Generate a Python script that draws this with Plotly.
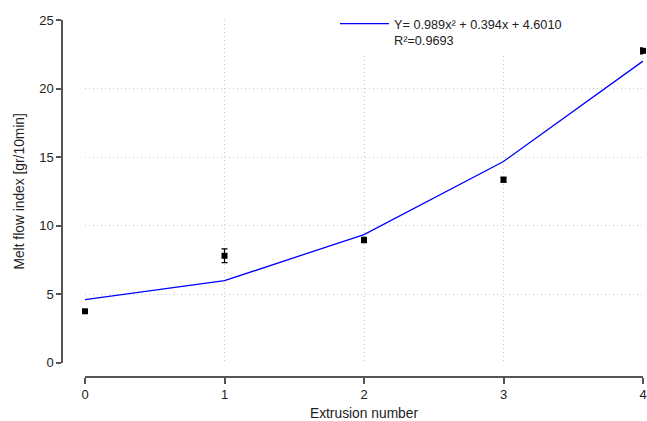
import plotly.graph_objects as go

extrusion = [0, 1, 2, 3, 4]
mfi_mean = [3.75, 7.8, 8.95, 13.35, 22.75]
mfi_err = [0.12, 0.5, 0.2, 0.17, 0.22]
fit_values = [4.60, 5.98, 9.35, 14.68, 22.00]
fit_label = "Y= 0.989x² + 0.394x + 4.6010<br>R²=0.9693"
y_ticks = [0, 5, 10, 15, 20, 25]
x_ticks = [0, 1, 2, 3, 4]

W, H = 647, 421
L, R, T, B = 62, 4, 20, 44
pw = W - L - R
ph = H - T - B

fig = go.Figure()
fig.add_trace(go.Scatter(
    x=extrusion, y=fit_values, mode="lines",
    line=dict(color="#0000ff", width=1.3),
    name=fit_label, showlegend=True, cliponaxis=False,
))
fig.add_trace(go.Scatter(
    x=extrusion, y=mfi_mean, mode="markers",
    marker=dict(symbol="square", size=6, color="black"),
    error_y=dict(type="data", array=mfi_err, color="black", thickness=1.2, width=3),
    showlegend=False, cliponaxis=False,
))

axis_color = "#555555"
grid_color = "#c8c8c8"
fig.update_layout(
    width=W, height=H,
    margin=dict(l=L, r=R, t=T, b=B, autoexpand=False),
    paper_bgcolor="white", plot_bgcolor="white",
    font=dict(family="Liberation Sans, Arial, sans-serif", size=13, color="#222222"),
    xaxis=dict(
        domain=[(85 - L) / pw, 1], range=[0, 4], anchor="free", position=0,
        tickvals=x_ticks, ticks="outside", ticklen=6, tickwidth=1.5, tickcolor=axis_color,
        showline=True, linecolor=axis_color, linewidth=1.5,
        showgrid=True, gridcolor=grid_color, griddash="1px,3px", gridwidth=1,
        zeroline=False, automargin=False, tickfont=dict(color="#222222", size=13),
        title=dict(text="Extrusion number", standoff=8, font=dict(size=13.8)),
    ),
    yaxis=dict(
        domain=[(377 - 362.7) / ph, 1], range=[0, 25], anchor="free", position=0,
        tickvals=y_ticks, ticks="outside", ticklen=5, tickwidth=1.5, tickcolor=axis_color,
        showline=True, linecolor=axis_color, linewidth=1.5,
        showgrid=True, gridcolor=grid_color, griddash="1px,3px", gridwidth=1,
        zeroline=False, automargin=False, tickfont=dict(color="#222222", size=13),
        title=dict(text="Melt flow index [gr/10min]", standoff=10, font=dict(size=13.8)),
    ),
    legend=dict(
        x=(335 - L) / pw, y=1.031, xanchor="left", yanchor="top",
        bgcolor="white", borderwidth=0, valign="top", itemwidth=49,
        font=dict(size=12.7),
    ),
)

fig.write_html(
    "out.html",
    config={"displayModeBar": False},
    post_script="document.body.style.margin='0';document.body.style.overflow='hidden';",
)
